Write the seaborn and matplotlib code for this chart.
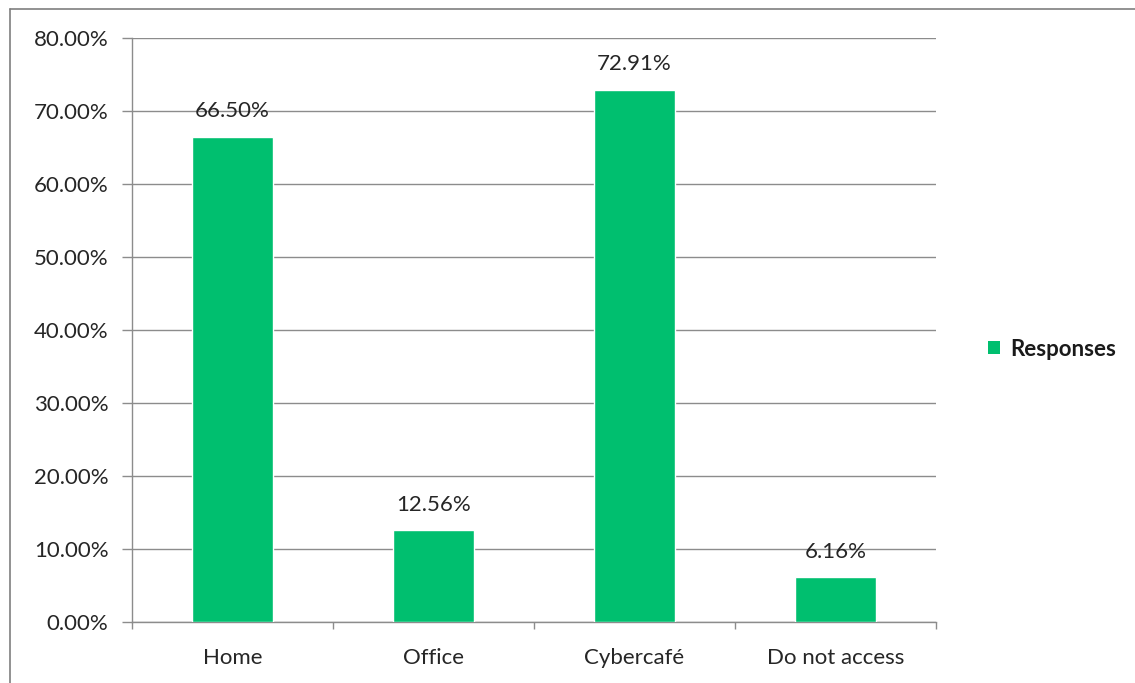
import matplotlib
matplotlib.use("Agg")
import matplotlib.pyplot as plt
import seaborn as sns
import pandas as pd
from matplotlib.lines import Line2D
from matplotlib.patches import Patch

categories = ["Home", "Office", "Cybercafé", "Do not access"]
responses = [66.50, 12.56, 72.91, 6.16]
y_ticks = [0, 10, 20, 30, 40, 50, 60, 70, 80]
series_name = "Responses"

bar_color = "#00BF6F"
grid_color = "#8C8C8C"
text_color = "#262626"
fs = 16

sns.set_theme(style="white")
plt.rcParams["font.family"] = ["Lato", "DejaVu Sans"]

df = pd.DataFrame({"category": categories, "value": responses})

fig = plt.figure(figsize=(11.35, 6.83), dpi=100)
ax = fig.add_axes([132 / 1135, 1 - 622 / 683, (936 - 132) / 1135, (622 - 38) / 683])

sns.barplot(data=df, x="category", y="value", color=bar_color, width=0.4,
            saturation=1, ax=ax, zorder=3)

ax.set_ylim(0, 80)
ax.set_xlim(-0.5, len(categories) - 0.5)
ax.set_yticks(y_ticks)
ax.set_yticklabels([f"{v:.2f}%" for v in y_ticks], fontsize=fs, color=text_color)
ax.set_xticks(range(len(categories)))
ax.set_xticklabels(categories, fontsize=fs, color=text_color)
ax.set_xlabel("")
ax.set_ylabel("")

ax.yaxis.grid(True, color=grid_color, linewidth=1.0, zorder=0)
for side in ["top", "right"]:
    ax.spines[side].set_visible(False)
for side in ["left", "bottom"]:
    ax.spines[side].set_color(grid_color)
    ax.spines[side].set_linewidth(1.0)

ax.tick_params(axis="y", which="major", length=7, color=grid_color, width=1.0,
               direction="out", left=True, pad=10)
ax.tick_params(axis="x", which="major", length=0, pad=19)
# Category separator ticks on the x axis
ax.set_xticks([i - 0.5 for i in range(len(categories) + 1)], minor=True)
ax.tick_params(axis="x", which="minor", length=5, color=grid_color, width=1.0,
               direction="out", bottom=True)

for i, v in enumerate(responses):
    ax.annotate(f"{v:.2f}%", xy=(i, v), xytext=(0, 14), textcoords="offset points",
                ha="center", va="baseline", fontsize=fs, color=text_color, zorder=4)

handle = Patch(facecolor=bar_color, edgecolor="none")
leg = fig.legend([handle], [series_name], loc="center left",
                 bbox_to_anchor=(968 / 1135, 1 - 349 / 683), frameon=False,
                 handlelength=0.55, handleheight=0.55, handletextpad=0.45,
                 prop={"size": fs, "weight": "bold"})
for t in leg.get_texts():
    t.set_color("#1a1a1a")

# Outer chart frame (top and left edges)
fig.add_artist(Line2D([9.5 / 1135, 1.0], [1 - 8.5 / 683, 1 - 8.5 / 683],
                      transform=fig.transFigure, color="#7f7f7f", linewidth=1.2))
fig.add_artist(Line2D([9.5 / 1135, 9.5 / 1135], [0.0, 1 - 8.5 / 683],
                      transform=fig.transFigure, color="#7f7f7f", linewidth=1.2))

fig.savefig("out.png", dpi=100, facecolor="white")
